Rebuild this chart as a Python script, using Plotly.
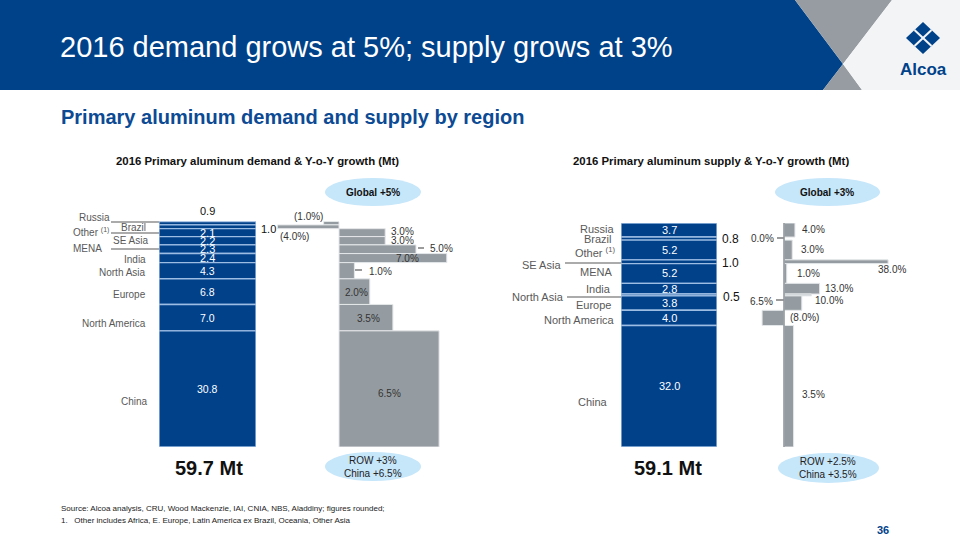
import plotly.graph_objects as go

# ---------------- data ----------------
regions = ["Russia", "Brazil", "Other", "SE Asia", "MENA", "India",
           "North Asia", "Europe", "North America", "China"]
demand_mt = [0.9, 1.0, 2.1, 2.2, 2.3, 2.4, 4.3, 6.8, 7.0, 30.8]
demand_growth = [-1.0, -4.0, 3.0, 3.0, 5.0, 7.0, 1.0, 2.0, 3.5, 6.5]
supply_mt = [3.7, 0.8, 5.2, 1.0, 5.2, 2.8, 0.5, 3.8, 4.0, 32.0]
supply_growth = [4.0, 0.0, 3.0, 38.0, 1.0, 13.0, 10.0, 6.5, -8.0, 3.5]
demand_total_label = "59.7 Mt"
supply_total_label = "59.1 Mt"
demand_bubbles = ["Global +5%", "ROW +3%<br>China +6.5%"]
supply_bubbles = ["Global +3%", "ROW +2.5%<br>China +3.5%"]

W, H = 960, 540
BLUE = "#004289"
STACK = "#00418a"
SEP = "#9dbde3"
GRAY = "#959ca1"
LGRAY = "#c3c8cb"
TXT = "#595959"
BUB = "#c6e6fa"
FONT = "Liberation Sans, Arial, sans-serif"


def px(x):
    return x / W


def py(y):
    return 1 - y / H


def centers(vals):
    out, c = [], 0.0
    for v in vals:
        out.append(c + v / 2)
        c += v
    return out


def fmt(g):
    return f"({abs(g):.1f}%)" if g < 0 else f"{g:.1f}%"


cd = centers(demand_mt)
cs = centers(supply_mt)
tot_d = sum(demand_mt)
tot_s = sum(supply_mt)

fig = go.Figure()
# demand stack
fig.add_trace(go.Bar(orientation="h", x=[1] * len(demand_mt), y=cd, width=demand_mt, base=0,
                     marker=dict(color=STACK, line=dict(color=SEP, width=1.4)),
                     xaxis="x", yaxis="y", hoverinfo="skip", showlegend=False))
# demand growth
fig.add_trace(go.Bar(orientation="h", x=demand_growth, y=cd, width=demand_mt,
                     marker=dict(color=GRAY, line=dict(color="#e4e7e9", width=1)),
                     xaxis="x2", yaxis="y", hoverinfo="skip", showlegend=False))
# supply stack
fig.add_trace(go.Bar(orientation="h", x=[1] * len(supply_mt), y=cs, width=supply_mt, base=0,
                     marker=dict(color=STACK, line=dict(color=SEP, width=1.4)),
                     xaxis="x3", yaxis="y3", hoverinfo="skip", showlegend=False))
# supply growth
scol = [LGRAY if r == "North Asia" else GRAY for r in regions]
fig.add_trace(go.Bar(orientation="h", x=supply_growth, y=cs, width=supply_mt,
                     marker=dict(color=scol, line=dict(color="#e4e7e9", width=1)),
                     xaxis="x4", yaxis="y3", hoverinfo="skip", showlegend=False))

shapes = []
# header
shapes.append(dict(type="path", xref="paper", yref="paper",
                   path=f"M0,{py(0)} L{px(795)},{py(0)} L{px(843)},{py(64)} L{px(823)},{py(90)} L0,{py(90)} Z",
                   fillcolor=BLUE, line=dict(width=0)))
shapes.append(dict(type="path", xref="paper", yref="paper",
                   path=f"M{px(795)},{py(0)} L{px(892)},{py(0)} L{px(843)},{py(64)} Z",
                   fillcolor="#969ca1", line=dict(width=0)))
shapes.append(dict(type="path", xref="paper", yref="paper",
                   path=f"M{px(843)},{py(64)} L{px(823)},{py(90)} L{px(862)},{py(90)} Z",
                   fillcolor="#969ca1", line=dict(width=0)))
shapes.append(dict(type="path", xref="paper", yref="paper",
                   path=f"M{px(892)},{py(0)} L{px(960)},{py(0)} L{px(960)},{py(90)} L{px(862)},{py(90)} L{px(843)},{py(64)} Z",
                   fillcolor="#f3f4f6", line=dict(width=0)))
# logo: diamond split into four
cx, cy, hw, hh = 923, 38, 17, 16
shapes.append(dict(type="path", xref="paper", yref="paper",
                   path=f"M{px(cx)},{py(cy-hh)} L{px(cx+hw)},{py(cy)} L{px(cx)},{py(cy+hh)} L{px(cx-hw)},{py(cy)} Z",
                   fillcolor=BLUE, line=dict(width=0)))
shapes.append(dict(type="line", xref="paper", yref="paper",
                   x0=px(cx - hw / 2), y0=py(cy - hh / 2), x1=px(cx + hw / 2), y1=py(cy + hh / 2),
                   line=dict(color="#f3f4f6", width=2)))
shapes.append(dict(type="line", xref="paper", yref="paper",
                   x0=px(cx + hw / 2), y0=py(cy - hh / 2), x1=px(cx - hw / 2), y1=py(cy + hh / 2),
                   line=dict(color="#f3f4f6", width=2)))

# bubbles
for (x0, x1, y0, y1) in [(325, 421, 178, 206), (775, 880, 178, 206),
                         (325, 421, 452, 481), (778, 879, 453, 483)]:
    shapes.append(dict(type="circle", xref="paper", yref="paper",
                       x0=px(x0), x1=px(x1), y0=py(y1), y1=py(y0),
                       fillcolor=BUB, line=dict(width=0), layer="below"))

# leader lines
for (x0, x1, y) in [(111, 159, 222), (111, 159, 233), (111, 159, 249),
                    (565, 621, 263), (567, 621, 297),
                    (418, 424, 248), (355, 362, 270), (777, 784, 238), (776, 784, 300)]:
    shapes.append(dict(type="line", xref="paper", yref="paper",
                       x0=px(x0), x1=px(x1), y0=py(y), y1=py(y),
                       line=dict(color=TXT, width=1.2)))

# supply growth zero line
shapes.append(dict(type="line", xref="x4", yref="y3", x0=0, x1=0, y0=0, y1=tot_s,
                   line=dict(color="#8e969b", width=1.5)))

ann = []


def A(text, x, y, size=10.5, color=TXT, xa="center", bold=False):
    t = f"<b>{text}</b>" if bold else text
    ann.append(dict(text=t, x=px(x), y=py(y), xref="paper", yref="paper",
                    xanchor=xa, yanchor="middle", showarrow=False,
                    font=dict(size=size, color=color, family=FONT)))


def AD(text, x, y, xref, yref, size=10.5, color="white"):
    ann.append(dict(text=text, x=x, y=y, xref=xref, yref=yref, xanchor="center",
                    yanchor="middle", showarrow=False,
                    font=dict(size=size, color=color, family=FONT)))


A("2016 demand grows at 5%; supply grows at 3%", 58, 47, size=29, color="white", xa="left")
A("Alcoa", 923, 69, size=17, color=BLUE, bold=True)
A("Primary aluminum demand and supply by region", 59, 117, size=20, color="#0c4a94", xa="left", bold=True)
A("2016 Primary aluminum demand & Y-o-Y growth (Mt)", 257, 161, size=11.4, color="#111", bold=True)
A("2016 Primary aluminum supply & Y-o-Y growth (Mt)", 711, 161, size=11.4, color="#111", bold=True)

A(demand_bubbles[0], 373, 192, size=10, color="#111", bold=True)
A(supply_bubbles[0], 827, 192, size=10, color="#111", bold=True)
A(demand_bubbles[1], 373, 467, size=10, color="#222")
A(supply_bubbles[1], 828, 468, size=10, color="#222")

A(demand_total_label, 209, 468, size=20, color="#111", bold=True)
A(supply_total_label, 668, 468, size=20, color="#111", bold=True)

A("Source: Alcoa analysis, CRU, Wood Mackenzie, IAI, CNIA, NBS, Aladdiny; figures rounded;", 59, 509, size=8, color="#222", xa="left")
A("1.&nbsp;&nbsp;&nbsp;Other includes Africa, E. Europe, Latin America ex Brazil, Oceania, Other Asia", 59, 520, size=8, color="#222", xa="left")
A("36", 891, 530, size=11, color=BLUE, xa="right", bold=True)

# demand region labels
dlab = [("Russia", 77, 218, "left"), ("Brazil", 148, 227, "right"),
        ("Other <sup>(1)</sup>", 111, 232, "right"), ("SE Asia", 150, 240, "right"),
        ("MENA", 104, 248, "right"), ("India", 148, 259, "right"),
        ("North Asia", 148, 272, "right"), ("Europe", 148, 294, "right"),
        ("North America", 148, 323, "right"), ("China", 150, 401, "right")]
for t, x, y, xa in dlab:
    A(t, x, y, size=10, xa=xa)
slab = [("Russia", 617, 229), ("Brazil", 614, 239), ("Other <sup>(1)</sup>", 617, 252),
        ("SE Asia", 563, 265), ("MENA", 614, 272), ("India", 613, 289),
        ("North Asia", 566, 297), ("Europe", 613, 305), ("North America", 617, 320),
        ("China", 610, 402)]
for t, x, y in slab:
    A(t, x, y, size=11, xa="right")

# stack value labels (inside)
for i, v in enumerate(demand_mt):
    if v >= 2:
        AD(f"{v:.1f}", 0.5, cd[i], "x", "y", size=11 if v < 3 else 10.5)
A(f"{demand_mt[0]:.1f}", 207, 211, size=11, color="#111")
A(f"{demand_mt[1]:.1f}", 259, 229, size=11, color="#111", xa="left")
for i, v in enumerate(supply_mt):
    if v >= 2:
        AD(f"{v:.1f}", 0.5, cs[i], "x3", "y3", size=11)
A(f"{supply_mt[1]:.1f}", 720, 239, size=12, color="#111", xa="left")
A(f"{supply_mt[3]:.1f}", 720, 263, size=12, color="#111", xa="left")
A(f"{supply_mt[6]:.1f}", 721, 297, size=12, color="#111", xa="left")

# demand growth labels
gd = [(308, 216, "center"), (294, 236, "center"), (389, 231, "left"), (389, 240, "left"),
      (428, 248, "left"), (407, 258, "center"), (367, 271, "left"), (356, 292, "center"),
      (368, 318, "center"), (389, 393, "center")]
for g, (x, y, xa) in zip(demand_growth, gd):
    A(fmt(g), x, y, size=10, color="#333", xa=xa)
gs = [(800, 229, "left"), (776, 238, "right"), (799, 249, "left"), (876, 269, "left"),
      (795, 273, "left"), (823, 288, "left"), (813, 300, "left"), (775, 301, "right"),
      (788, 317, "left"), (800, 394, "left")]
for g, (x, y, xa) in zip(supply_growth, gs):
    A(fmt(g), x, y, size=10, color="#333", xa=xa)

ax_off = dict(visible=False, fixedrange=True, showgrid=False, zeroline=False)
fig.update_layout(
    width=W, height=H, margin=dict(l=0, r=0, t=0, b=0),
    paper_bgcolor="white", plot_bgcolor="rgba(0,0,0,0)",
    barmode="overlay", shapes=shapes, annotations=ann,
    xaxis=dict(domain=[px(159), px(256)], range=[0, 1], anchor="y", **ax_off),
    xaxis2=dict(domain=[px(260), px(460)], range=[(260 - 339) / 15.4, (460 - 339) / 15.4], anchor="y", **ax_off),
    xaxis3=dict(domain=[px(621), px(717)], range=[0, 1], anchor="y3", **ax_off),
    xaxis4=dict(domain=[px(740), px(900)], range=[(740 - 784) / 2.74, (900 - 784) / 2.74], anchor="y3", **ax_off),
    yaxis=dict(domain=[py(447), py(221.5)], range=[tot_d, 0], anchor="x", **ax_off),
    yaxis3=dict(domain=[py(447), py(223)], range=[tot_s, 0], anchor="x3", **ax_off),
)

fig.write_html("out.html")
